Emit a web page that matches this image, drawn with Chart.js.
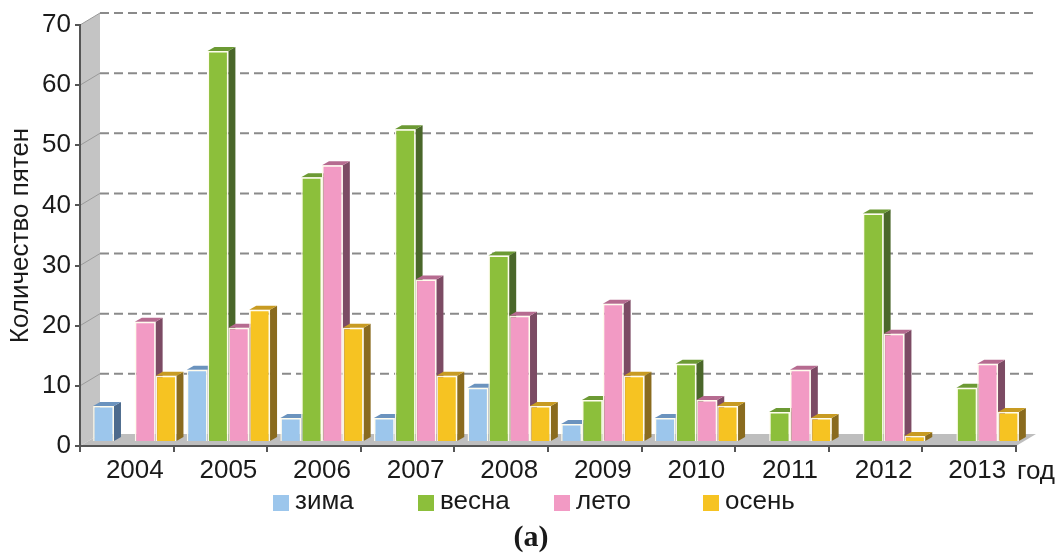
<!DOCTYPE html>
<html>
<head>
<meta charset="utf-8">
<script src="https://cdn.jsdelivr.net/npm/chart.js@4.4.1/dist/chart.umd.min.js"></script>
<style>
  html, body { margin: 0; padding: 0; background: #fff; }
  #wrap { width: 1061px; height: 553px; position: relative; }
</style>
</head>
<body>
<div id="wrap"><canvas id="myChart"></canvas></div>
<script>
const years = ['2004', '2005', '2006', '2007', '2008', '2009', '2010', '2011', '2012', '2013'];
const zima = [6, 12, 4, 4, 9, 3, 4, 0, 0, 0];
const vesna = [0, 65, 44, 52, 31, 7, 13, 5, 38, 9];
const leto = [20, 19, 46, 27, 21, 23, 7, 12, 18, 13];
const osen = [11, 22, 19, 11, 6, 11, 6, 4, 1, 5];
const seasonNames = ['зима', 'весна', 'лето', 'осень'];
const yTicks = [0, 10, 20, 30, 40, 50, 60, 70];

// front / top / side colours for each season
const front = ['#9cc6ec', '#8cbf3b', '#f29ac4', '#f6c322'];
const topc = ['#6b93be', '#6c9a34', '#b66b90', '#c89b22'];
const side = ['#4d6b8d', '#4a672a', '#7c4b64', '#8a6b1e'];

const FONT = "'Liberation Sans', Arial, sans-serif";
const bar = { dx: 8, dy: -4 };     // bars sit a little behind the front axis
const depth = { dx: 7, dy: -4 };   // bar thickness
const wall = { dx: 20, dy: -12 };  // back wall offset

const ctx = document.getElementById('myChart');

const threeD = {
  id: 'threeD',
  beforeDraw(chart) {
    const c = chart.ctx, a = chart.chartArea, y = chart.scales.y;
    c.save();
    // side wall
    c.fillStyle = '#c4c4c4';
    c.beginPath();
    c.moveTo(a.left, a.top);
    c.lineTo(a.left + wall.dx, a.top + wall.dy);
    c.lineTo(a.left + wall.dx, a.bottom + wall.dy);
    c.lineTo(a.left, a.bottom);
    c.closePath();
    c.fill();
    // floor
    c.fillStyle = '#bebebe';
    c.beginPath();
    c.moveTo(a.left, a.bottom);
    c.lineTo(a.left + wall.dx, a.bottom + wall.dy);
    c.lineTo(a.right + wall.dx, a.bottom + wall.dy);
    c.lineTo(a.right, a.bottom);
    c.closePath();
    c.fill();
    // grid lines on the wall and at the back
    yTicks.forEach(v => {
      if (v === 0) return;
      const py = y.getPixelForValue(v);
      c.strokeStyle = '#9a9a9a';
      c.lineWidth = 1;
      c.setLineDash([]);
      c.beginPath();
      c.moveTo(a.left, py);
      c.lineTo(a.left + wall.dx, py + wall.dy);
      c.stroke();
      c.strokeStyle = '#8a8a8a';
      c.lineWidth = 2;
      c.setLineDash([9, 5]);
      c.beginPath();
      c.moveTo(a.left + wall.dx, py + wall.dy);
      c.lineTo(a.right + wall.dx, py + wall.dy);
      c.stroke();
    });
    c.restore();
  },
  beforeDatasetsDraw(chart) {
    const c = chart.ctx;
    c.save();
    c.translate(bar.dx, bar.dy);
    chart.data.datasets.forEach((ds, i) => {
      chart.getDatasetMeta(i).data.forEach((el, j) => {
        if (!ds.data[j]) return;
        const p = el.getProps(['x', 'y', 'base', 'width'], true);
        const L = p.x - p.width / 2, R = p.x + p.width / 2, T = p.y, B = p.base;
        c.fillStyle = side[i];
        c.beginPath();
        c.moveTo(R, T);
        c.lineTo(R + depth.dx, T + depth.dy);
        c.lineTo(R + depth.dx, B + depth.dy);
        c.lineTo(R, B);
        c.closePath();
        c.fill();
        c.fillStyle = topc[i];
        c.beginPath();
        c.moveTo(L, T);
        c.lineTo(L + depth.dx, T + depth.dy);
        c.lineTo(R + depth.dx, T + depth.dy);
        c.lineTo(R, T);
        c.closePath();
        c.fill();
      });
    });
    // keep the translate for the bar fronts, restored after datasets
  },
  afterDatasetsDraw(chart) {
    const c = chart.ctx, a = chart.chartArea;
    c.restore();
    c.save();
    // axis unit
    c.fillStyle = '#1a1a1a';
    c.font = '26px ' + FONT;
    c.textBaseline = 'middle';
    c.textAlign = 'left';
    c.fillText('год', a.right + 1, 472);
    // legend
    const lx = [273, 418, 554, 703];
    c.font = '26px ' + FONT;
    chart.data.datasets.forEach((ds, i) => {
      c.fillStyle = ds.backgroundColor;
      c.fillRect(lx[i], 495, 16, 16);
      c.fillStyle = '#1a1a1a';
      c.fillText(ds.label, lx[i] + 22, 502);
    });
    c.font = "bold 30px 'Liberation Serif', 'Times New Roman', serif";
    c.textAlign = 'center';
    c.fillText('(a)', 531, 538);
    c.restore();
  }
};

const myChart = new Chart(ctx, {
  type: 'bar',
  data: {
    labels: years,
    datasets: [zima, vesna, leto, osen].map((d, i) => ({
      label: seasonNames[i],
      data: d,
      backgroundColor: front[i],
      borderColor: 'rgba(255,252,236,0.95)',
      borderWidth: c => (c.raw ? 1.5 : 0),
      categoryPercentage: 0.89,
      barPercentage: 1.0,
      clip: false
    }))
  },
  options: {
    responsive: true,
    maintainAspectRatio: false,
    animation: false,
    layout: { padding: { top: 25, right: 45, left: 0, bottom: 0 } },
    plugins: {
      legend: { display: false },
      tooltip: { enabled: false }
    },
    scales: {
      x: {
        grid: { drawOnChartArea: false, tickLength: 6, color: '#555', lineWidth: 2 },
        border: { color: '#555', width: 2 },
        ticks: { color: '#1a1a1a', font: { family: FONT, size: 26 }, padding: 3, labelOffset: 8, maxRotation: 0 },
        afterFit: s => { s.height = 107; }
      },
      y: {
        min: 0,
        max: 70,
        grid: { drawOnChartArea: false, tickLength: 5, color: '#555', lineWidth: 2 },
        border: { color: '#555', width: 2 },
        ticks: { stepSize: 10, color: '#1a1a1a', font: { family: FONT, size: 26 }, padding: 4 },
        title: {
          display: true,
          text: 'Количество пятен',
          color: '#1a1a1a',
          font: { family: FONT, size: 26 },
          padding: { top: 5, bottom: 0 }
        },
        afterFit: s => { s.width = 80; }
      }
    }
  },
  plugins: [threeD]
});
</script>
</body>
</html>
